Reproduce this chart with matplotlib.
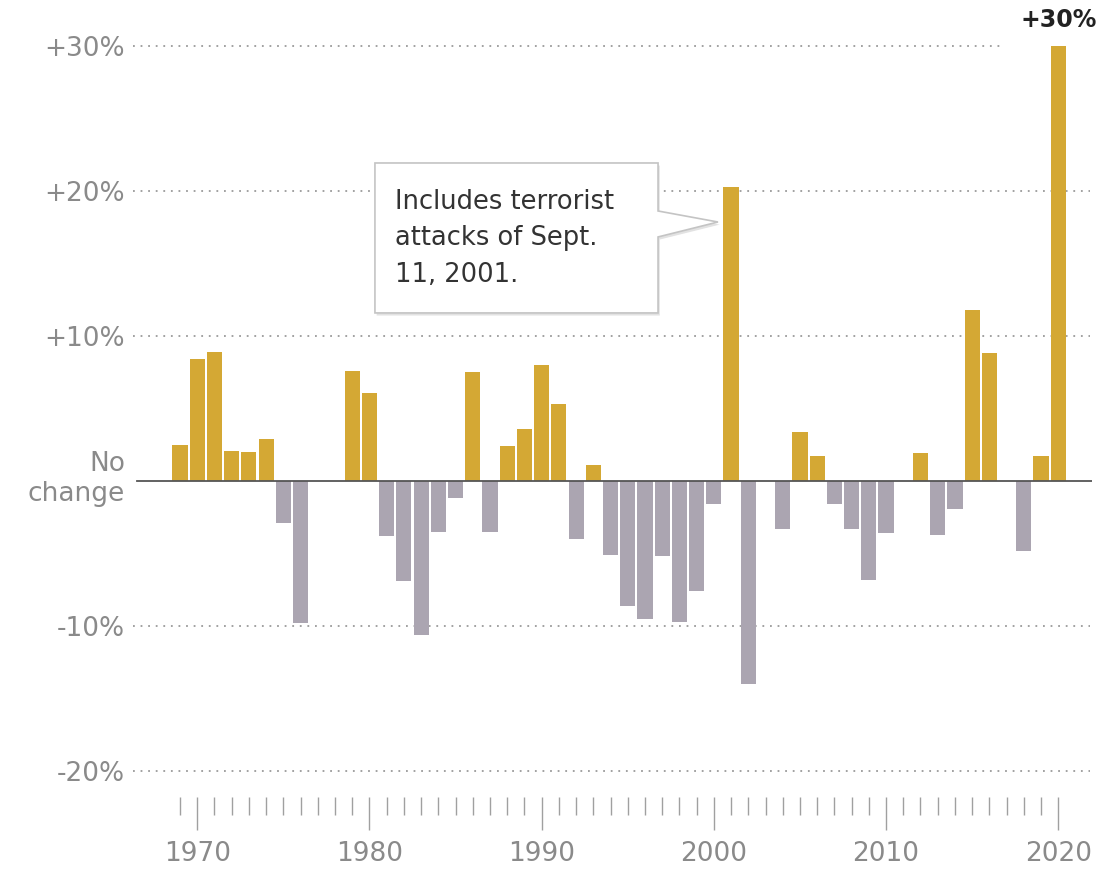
import numpy as np
import matplotlib
matplotlib.use("Agg")
import matplotlib.pyplot as plt
from matplotlib.patches import Polygon
from matplotlib.transforms import blended_transform_factory, offset_copy

plt.rcParams['font.family'] = ['DejaVu Sans']

years = list(range(1969, 2021))
change = [2.5, 8.4, 8.9, 2.1, 2.0, 2.9, -2.9, -9.8, 0.0, 0.0,
          7.6, 6.1, -3.8, -6.9, -10.6, -3.5, -1.2, 7.5, -3.5, 2.4,
          3.6, 8.0, 5.3, -4.0, 1.1, -5.1, -8.6, -9.5, -5.2, -9.7,
          -7.6, -1.6, 20.3, -14.0, 0.0, -3.3, 3.4, 1.7, -1.6, -3.3,
          -6.8, -3.6, 0.0, 1.9, -3.7, -1.9, 11.8, 8.8, 0.0, -4.8,
          1.7, 30.0]
ytick_vals = [30, 20, 10, 0, -10, -20]
ytick_labels = ['+30%', '+20%', '+10%', '', '-10%', '-20%']
xtick_major = [1970, 1980, 1990, 2000, 2010, 2020]

gold = '#D4A834'
grey = '#ABA5B1'
colors = [gold if v > 0 else grey for v in change]

fig = plt.figure(figsize=(11.02, 8.72), dpi=100)
ax = fig.add_axes([133 / 1102, 75 / 872, (1092 - 133) / 1102, (797 - 20) / 872])
ax.set_xlim(1966.27, 2021.96)
ax.set_ylim(-21.79, 31.79)

# dotted gridlines
for v in ytick_vals:
    if v == 0:
        continue
    xmax = 2016.6 if v == 30 else 2021.85
    ax.plot([1966.27, xmax], [v, v], ls=(0, (1, 3.2)), lw=1.3, color='#9a9a9a', zorder=0)

ax.bar(years, change, width=0.88, color=colors, zorder=2)
ax.axhline(0, xmin=0.004, color='#555555', lw=1.3, zorder=3)

for s in ax.spines.values():
    s.set_visible(False)

ax.set_yticks(ytick_vals)
ax.set_yticklabels(ytick_labels)
ax.tick_params(axis='y', length=0, pad=6, labelsize=19, labelcolor='#8a8a8a')

# "No change" label at zero line
trans = offset_copy(blended_transform_factory(ax.transAxes, ax.transData),
                    fig=fig, x=-8, y=2, units='dots')
ax.text(0, 0, 'No\nchange', transform=trans, ha='right', va='center',
        fontsize=19, color='#8a8a8a', linespacing=1.2)

ax.set_xticks(xtick_major)
ax.set_xticks(years, minor=True)
ax.tick_params(axis='x', which='major', length=24, width=1, color='#a0a0a0',
               pad=8, labelsize=19, labelcolor='#8a8a8a')
ax.tick_params(axis='x', which='minor', length=13, width=1, color='#a0a0a0')

# callout box with pointer
L, R, T, B = 1980.32, 1996.76, 21.93, 11.59
pts = [(L, T), (R, T), (R, 18.62), (2000.24, 17.86), (R, 16.83), (R, B), (L, B)]
shadow = Polygon([(x + 0.1, y - 0.18) for x, y in pts], closed=True,
                 facecolor='#e2e2e2', edgecolor='none', zorder=4)
ax.add_patch(shadow)
box = Polygon(pts, closed=True, facecolor='white', edgecolor='#c4c4c4', lw=1.2, zorder=5)
ax.add_patch(box)
ax.text(1981.5, 20.15, 'Includes terrorist\nattacks of Sept.\n11, 2001.',
        fontsize=18.5, color='#333333', va='top', ha='left', linespacing=1.53, zorder=6)

ax.text(2020, 31.8, '+30%', fontsize=17, fontweight='bold', color='#222222',
        ha='center', va='center')

fig.savefig('out.png', dpi=100)
